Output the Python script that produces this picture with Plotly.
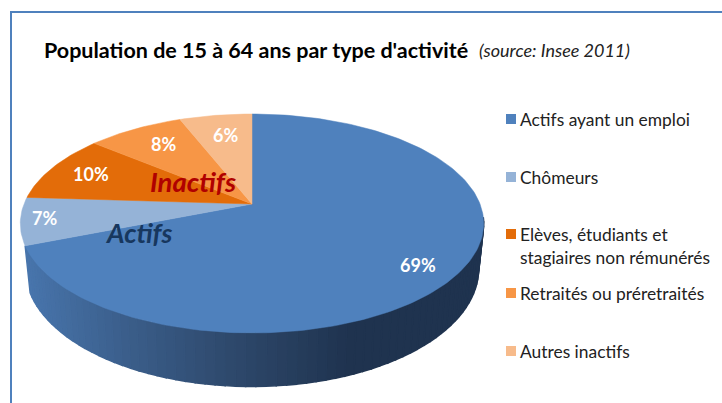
import math
import plotly.graph_objects as go

categories = ["Actifs ayant un emploi", "Chômeurs", "Elèves, étudiants et<br>stagiaires non rémunérés",
              "Retraités ou préretraités", "Autres inactifs"]
values = [69, 7, 10, 8, 6]
colors = ["#4f81bd", "#95b3d7", "#e36c09", "#f79646", "#f7bb8b"]
label_radius = [0.81, 0.90, 0.80, 0.734, 0.71]
label_nudge = [8, -1, 0, -3, -3]
legend_y = [119, 177, 234, 293, 351]

CX, CY, A, B, K = 252, 204, 106, 228, 0.178
DEPTH = 44
BOTTOM_SHRINK = 0.978


def project(theta_deg, r=1.0):
    t = math.radians(theta_deg)
    u, v = r * math.sin(t), r * math.cos(t)
    w = 1 + K * v
    return CX + B * u / w, CY - A * v / w, w


def lerp(stops, x):
    if x <= stops[0][0]:
        return stops[0][1]
    for (x0, c0), (x1, c1) in zip(stops, stops[1:]):
        if x <= x1:
            f = (x - x0) / (x1 - x0)
            return tuple(round(a + (b - a) * f) for a, b in zip(c0, c1))
    return stops[-1][1]


wall_stops = [(25, (72, 117, 172)), (130, (58, 93, 137)), (230, (46, 73, 108)),
              (350, (31, 51, 79)), (722, (31, 51, 79))]

fig = go.Figure()

# side wall of the first slice
total = sum(values)
first_end = 360 * values[0] / total
N = 70
start_wall = 97


def lower(x):
    return CX + (x - CX) * BOTTOM_SHRINK


for i in range(N):
    a0 = start_wall + (first_end - start_wall) * i / N
    a1 = start_wall + (first_end - start_wall) * (i + 1) / N
    x0, y0, w0 = project(a0)
    x1, y1, w1 = project(a1)
    col = "rgb(%d,%d,%d)" % lerp(wall_stops, (x0 + x1) / 2)
    fig.add_trace(go.Scatter(
        x=[x0, x1, lower(x1), lower(x0), x0],
        y=[y0, y1, y1 + DEPTH / w1, y0 + DEPTH / w0, y0],
        mode="lines", fill="toself", fillcolor=col,
        line=dict(color=col, width=1.5), hoverinfo="skip", showlegend=False))

# top faces
cum = 0
for name, val, col in zip(categories, values, colors):
    a0 = 360 * cum / total
    a1 = 360 * (cum + val) / total
    n = max(4, int(val * 3))
    pts = [project(a0 + (a1 - a0) * j / n) for j in range(n + 1)]
    xs = [CX] + [p[0] for p in pts] + [CX]
    ys = [CY] + [p[1] for p in pts] + [CY]
    fig.add_trace(go.Scatter(x=xs, y=ys, mode="lines", fill="toself", fillcolor=col,
                             line=dict(color=col, width=0.5), name=name.replace("<br>", " "),
                             hoverinfo="name", showlegend=False))
    cum += val

annotations = []
# value labels
cum = 0
for val, r, dy in zip(values, label_radius, label_nudge):
    mid = 360 * (cum + val / 2) / total
    x, y, _ = project(mid, r)
    annotations.append(dict(x=x, y=y + dy, text="<b>%d%%</b>" % val, showarrow=False,
                            font=dict(family="Lato", size=18, color="white")))
    cum += val

# group labels
annotations.append(dict(x=193, y=181, text="<b><i>Inactifs</i></b>", showarrow=False,
                        font=dict(family="Lato", size=27.5, color="#b00000")))
annotations.append(dict(x=139, y=232, text="<b><i>Actifs</i></b>", showarrow=False,
                        font=dict(family="Lato", size=27, color="#17375e")))

# title
annotations.append(dict(x=41.5, y=50, xanchor="left", text="<b>Population de 15 à 64 ans par type d'activité</b>",
                        showarrow=False, font=dict(family="Lato", size=21.5, color="black")))
annotations.append(dict(x=477, y=50, xanchor="left", text="<i>(source: Insee 2011)</i>",
                        showarrow=False, font=dict(family="Lato", size=18, color="#222222")))

# legend
shapes = []
for name, col, ly in zip(categories, colors, legend_y):
    shapes.append(dict(type="rect", x0=506, x1=516, y0=ly - 5, y1=ly + 5, fillcolor=col, line_width=0))
    n_lines = name.count("<br>")
    annotations.append(dict(x=518, y=ly + 11.5 * n_lines, xanchor="left", align="left", text=name,
                            showarrow=False, font=dict(family="Lato", size=17.4, color="#222222")))

# chart frame
FRAME = "#4f81bd"
shapes.append(dict(type="line", x0=10, x1=722, y0=12, y1=12, line=dict(color=FRAME, width=2)))
shapes.append(dict(type="line", x0=11, x1=11, y0=11, y1=403, line=dict(color=FRAME, width=2)))

fig.update_layout(
    width=722, height=403, margin=dict(l=0, r=0, t=0, b=0),
    paper_bgcolor="white", plot_bgcolor="white", showlegend=False,
    xaxis=dict(range=[0, 722], visible=False, fixedrange=True),
    yaxis=dict(range=[403, 0], visible=False, fixedrange=True),
    annotations=annotations, shapes=shapes,
)
fig.write_html("out.html", config={"displayModeBar": False},
               post_script="document.body.style.margin='0';document.body.style.overflow='hidden';")
